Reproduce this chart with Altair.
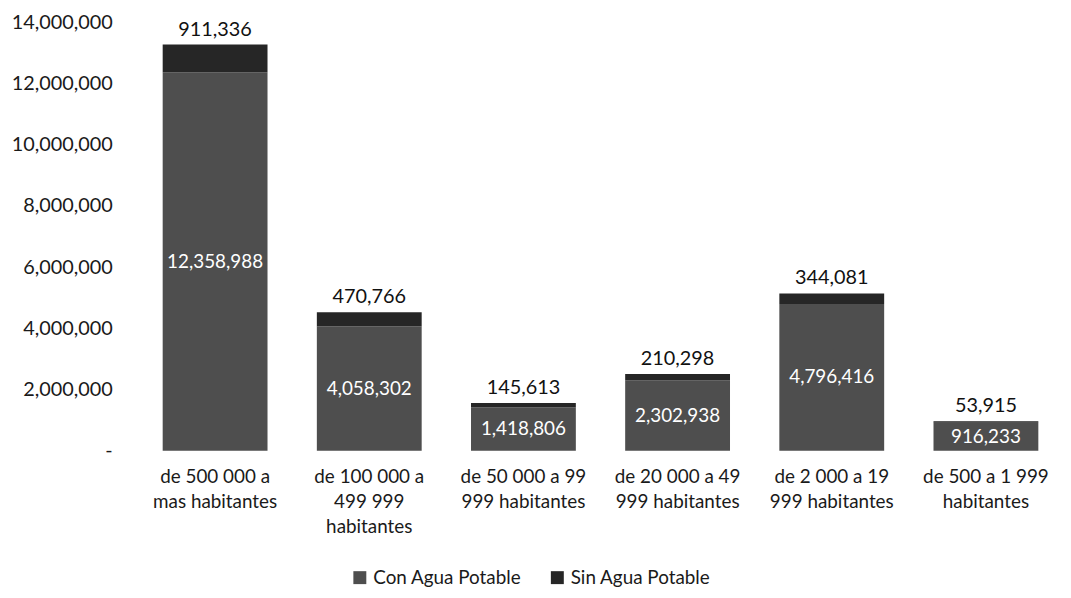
import altair as alt
import pandas as pd

categories = [
    "de 500 000 a|mas habitantes",
    "de 100 000 a|499 999|habitantes",
    "de 50 000 a 99|999 habitantes",
    "de 20 000 a 49|999 habitantes",
    "de 2 000 a 19|999 habitantes",
    "de 500 a 1 999|habitantes",
]
con_agua = [12358988, 4058302, 1418806, 2302938, 4796416, 916233]
sin_agua = [911336, 470766, 145613, 210298, 344081, 53915]
series = ["Con Agua Potable", "Sin Agua Potable"]
y_ticks = [0, 2000000, 4000000, 6000000, 8000000, 10000000, 12000000, 14000000]

rows = []
for c, a, b in zip(categories, con_agua, sin_agua):
    rows.append({"cat": c, "serie": series[0], "val": a, "ord": 0})
    rows.append({"cat": c, "serie": series[1], "val": b, "ord": 1})
long_df = pd.DataFrame(rows)
wide_df = pd.DataFrame({"cat": categories, "con": con_agua, "sin": sin_agua})

FONT = "Lato"

x_enc = alt.X(
    "cat:N",
    sort=categories,
    scale=alt.Scale(paddingInner=0.32, paddingOuter=0.16),
    axis=alt.Axis(
        title=None,
        labelAngle=0,
        labelExpr="split(datum.label, '|')",
        labelFont=FONT,
        labelFontSize=19,
        labelColor="#1a1a1a",
        labelLineHeight=25,
        labelPadding=17,
        ticks=False,
        domain=False,
        labelBaseline="top",
    ),
)

bars = alt.Chart(long_df).mark_bar().encode(
    x=x_enc,
    y=alt.Y(
        "sum(val):Q",
        stack="zero",
        scale=alt.Scale(domain=[0, 14000000], nice=False),
        axis=alt.Axis(
            title=None,
            values=y_ticks,
            labelExpr="datum.value == 0 ? '-' : format(datum.value, ',')",
            labelFont=FONT,
            labelFontSize=20,
            labelColor="#1a1a1a",
            labelPadding=26,
            ticks=False,
            domain=False,
            grid=False,
        ),
    ),
    color=alt.Color(
        "serie:N",
        scale=alt.Scale(domain=series, range=["#4e4e4e", "#262626"]),
        legend=alt.Legend(
            title=None,
            orient="none",
            direction="horizontal",
            legendX=214,
            legendY=550,
            symbolType="square",
            symbolSize=170,
            symbolStrokeWidth=0,
            labelFont=FONT,
            labelFontSize=19,
            labelColor="#1a1a1a",
            columnPadding=26,
        ),
    ),
    order=alt.Order("ord:Q"),
)

inner = alt.Chart(wide_df).transform_calculate(
    mid="datum.con / 2"
).mark_text(font=FONT, fontSize=19, color="white").encode(
    x=alt.X("cat:N", sort=categories),
    y=alt.Y("mid:Q"),
    text=alt.Text("con:Q", format=","),
)

top = alt.Chart(wide_df).transform_calculate(
    tot="datum.con + datum.sin"
).mark_text(font=FONT, fontSize=20, color="#111111", baseline="bottom", dy=-5).encode(
    x=alt.X("cat:N", sort=categories),
    y=alt.Y("tot:Q"),
    text=alt.Text("sin:Q", format=","),
)

chart = alt.layer(bars, inner, top).properties(
    width=932,
    height=432,
    autosize=alt.AutoSizeParams(type="none"),
    padding={"left": 131, "top": 12, "right": 0, "bottom": 140},
    background="white",
).configure_view(stroke=None)

chart.save("out.html", embed_options={"renderer": "svg", "actions": False})
